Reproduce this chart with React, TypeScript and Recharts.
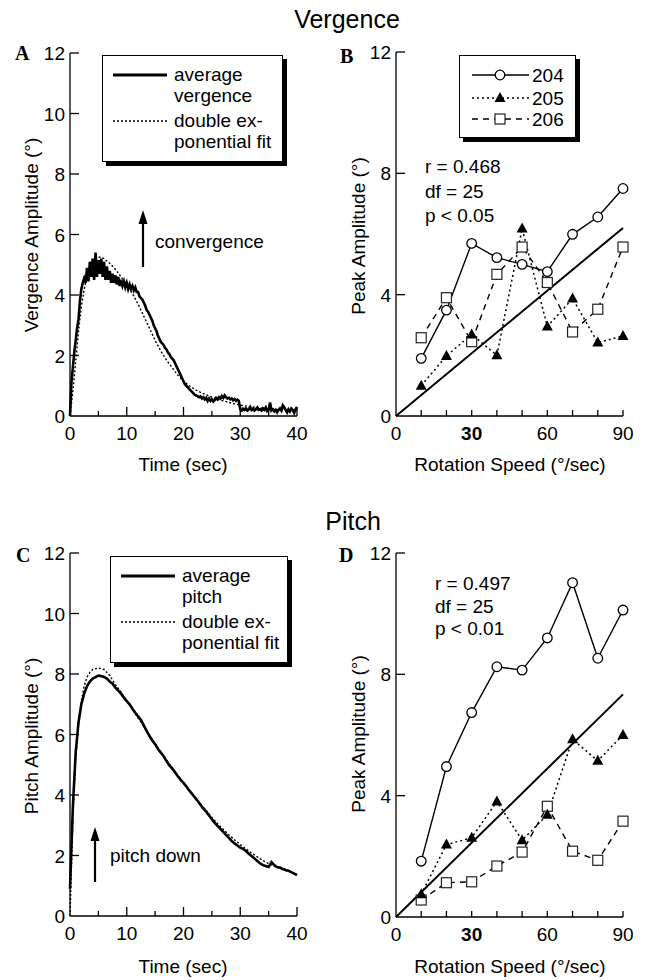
import React from 'react';
import { LineChart, Line, XAxis, YAxis, Legend } from 'recharts';

const FONT = '"Liberation Sans", Arial, Helvetica, sans-serif';
const SERIF = '"Liberation Serif", "Times New Roman", serif';

// Panel A: averaged vergence trace, one sample every 0.25 s
const vergenceStep = 0.25;
const vergenceAvg = [
  0, 1.1, 1.6, 2.1, 2.5, 2.9, 3.2, 3.8, 4.2, 4.4,
  4.55, 4.4, 4.9, 4.45, 5.1, 4.6, 5.2, 4.5, 5.4, 4.6,
  5.15, 4.7, 5.2, 4.6, 5.1, 4.5, 4.95, 4.5, 4.8, 4.4,
  4.7, 4.4, 4.65, 4.35, 4.6, 4.3, 4.5, 4.3, 4.45, 4.25,
  4.4, 4.2, 4.35, 4.2, 4.3, 4.15, 4.25, 4.1, 4.1, 3.95,
  3.9, 3.85, 3.75, 3.65, 3.5, 3.45, 3.35, 3.25, 3.15, 3.0,
  2.9, 2.8, 2.65, 2.55, 2.45, 2.4, 2.35, 2.25, 2.2, 2.1,
  2.05, 1.95, 1.9, 1.85, 1.75, 1.65, 1.55, 1.45, 1.35, 1.25,
  1.15, 1.05, 1.0, 0.95, 0.9, 0.85, 0.8, 0.75, 0.7, 0.68,
  0.65, 0.62, 0.65, 0.58, 0.62, 0.55, 0.6, 0.5, 0.58, 0.5,
  0.55, 0.48, 0.52, 0.6, 0.55, 0.62, 0.58, 0.66, 0.6, 0.68,
  0.62, 0.58, 0.6, 0.55, 0.58, 0.52, 0.56, 0.5, 0.54, 0.5,
  0.22, 0.18, 0.24, 0.2, 0.25, 0.18, 0.22, 0.3, 0.2, 0.24,
  0.18, 0.22, 0.28, 0.2, 0.22, 0.18, 0.25, 0.2, 0.28, 0.16,
  0.2, 0.45, 0.18, 0.22, 0.15, 0.2, 0.12, 0.2, 0.25, 0.18,
  0.35, 0.28, 0.2, 0.12, 0.22, 0.15, 0.25, 0.2, 0.1, 0.22,
  0.3,
];
const vergenceFitTime = [
  0, 0.5, 1, 1.5, 2, 2.5, 3, 3.5, 4, 4.5, 5, 5.5, 6, 7, 8, 9, 10, 11, 12, 13,
  14, 15, 16, 17, 18, 19, 20, 21, 22, 23, 24, 25, 26, 27, 28, 29, 30, 32, 34, 36, 38, 40,
];
const vergenceFit = [
  0, 0.8, 1.8, 2.8, 3.6, 4.2, 4.6, 4.9, 5.1, 5.2, 5.25, 5.25, 5.2, 5.05, 4.85, 4.6, 4.35, 4.05, 3.7, 3.3,
  2.9, 2.5, 2.15, 1.85, 1.6, 1.35, 1.15, 1.0, 0.88, 0.78, 0.7, 0.62, 0.55, 0.5, 0.45, 0.4, 0.36, 0.3, 0.26, 0.22, 0.2, 0.18,
];

// Panel C: averaged pitch trace, one sample every 0.5 s
const pitchStep = 0.5;
const pitchAvg = [
  0.9, 3.6, 5.4, 6.4, 7.0, 7.35, 7.6, 7.75, 7.85, 7.9,
  7.95, 7.93, 7.9, 7.85, 7.75, 7.68, 7.55, 7.45, 7.35, 7.22,
  7.1, 7.0, 6.85, 6.72, 6.6, 6.48, 6.3, 6.12, 5.95, 5.8,
  5.68, 5.52, 5.4, 5.28, 5.12, 4.98, 4.88, 4.75, 4.62, 4.5,
  4.4, 4.28, 4.15, 4.04, 3.92, 3.8, 3.68, 3.55, 3.45, 3.32,
  3.2, 3.08, 2.98, 2.88, 2.78, 2.68, 2.58, 2.48, 2.4, 2.33,
  2.26, 2.22, 2.15, 2.06, 1.98, 1.9, 1.82, 1.74, 1.68, 1.65,
  1.62, 1.78, 1.68, 1.62, 1.6, 1.55, 1.52, 1.5, 1.45, 1.4,
  1.35,
];
const pitchFitTime = [
  0, 0.5, 1, 1.5, 2, 2.5, 3, 3.5, 4, 5, 6, 7, 8, 9, 10, 12, 14, 16, 18, 20,
  22, 24, 26, 28, 30, 32, 34, 36, 38, 40,
];
const pitchFit = [
  0, 3.2, 5.2, 6.4, 7.1, 7.6, 7.9, 8.05, 8.15, 8.2, 8.15, 7.95, 7.65, 7.4, 7.12, 6.55, 5.98, 5.42, 4.9, 4.4,
  3.92, 3.48, 3.05, 2.68, 2.36, 2.08, 1.83, 1.64, 1.5, 1.38,
];

// Panels B and D: peak amplitude per subject
const speeds = [10, 20, 30, 40, 50, 60, 70, 80, 90];
const vergence204 = [1.9, 3.49, 5.69, 5.22, 5.0, 4.76, 5.99, 6.56, 7.5];
const vergence205 = [1.0, 1.98, 2.69, 2.0, 6.18, 2.95, 3.87, 2.42, 2.64];
const vergence206 = [2.58, 3.9, 2.45, 4.67, 5.57, 4.4, 2.77, 3.52, 5.57];
const pitch204 = [1.84, 4.96, 6.74, 8.25, 8.14, 9.2, 11.02, 8.53, 10.12];
const pitch205 = [0.75, 2.39, 2.61, 3.81, 2.53, 3.37, 5.86, 5.15, 6.0];
const pitch206 = [0.56, 1.13, 1.16, 1.68, 2.14, 3.65, 2.17, 1.87, 3.16];
const regressionSpeed = [0, 90];
const vergenceRegression = [0, 6.2];
const pitchRegression = [0, 7.34];

const timeTicks = [0, 5, 10, 15, 20, 25, 30, 35, 40];
const timeLabels = [0, 10, 20, 30, 40];
const amplitudeTicks = [0, 2, 4, 6, 8, 10, 12];
const peakTicks = [0, 4, 8, 12];
const speedTicks = [0, 10, 20, 30, 40, 50, 60, 70, 80, 90];
const speedLabels = [0, 30, 60, 90];
const boldSpeed = 30;

const traceData = (vals: number[], step: number) => vals.map((v, i) => ({ t: i * step, v }));
const pairData = (ts: number[], vals: number[]) => ts.map((t, i) => ({ t, v: vals[i] }));
const speedTable = (a: number[], b: number[], c: number[]) =>
  speeds.map((x, i) => ({ x, s204: a[i], s205: b[i], s206: c[i] }));

const vergenceAvgData = traceData(vergenceAvg, vergenceStep);
const vergenceFitData = pairData(vergenceFitTime, vergenceFit);
const pitchAvgData = traceData(pitchAvg, pitchStep);
const pitchFitData = pairData(pitchFitTime, pitchFit);
const vergencePeaks = speedTable(vergence204, vergence205, vergence206);
const pitchPeaks = speedTable(pitch204, pitch205, pitch206);
const vergenceRegData = regressionSpeed.map((x, i) => ({ x, fit: vergenceRegression[i] }));
const pitchRegData = regressionSpeed.map((x, i) => ({ x, fit: pitchRegression[i] }));

const AXIS = { stroke: '#000', strokeWidth: 1.3 };

// ticks drawn inward, labels outside
const xTick = (labels: number[], tickLen: (v: number) => number, bold?: number) => (props: any) => {
  const { x, y, payload } = props;
  const v = payload.value;
  return (
    <g>
      {v !== 0 && <line x1={x} x2={x} y1={y} y2={y - tickLen(v)} stroke="#000" strokeWidth={1.3} />}
      {labels.includes(v) && (
        <text x={x} y={y + 24} textAnchor="middle" fontSize={19} fontFamily={FONT}
          fontWeight={v === bold ? 'bold' : 'normal'} fill="#000">{v}</text>
      )}
    </g>
  );
};

const yTick = (props: any) => {
  const { x, y, payload } = props;
  return (
    <g>
      {payload.value !== 0 && <line x1={x} x2={x + 9} y1={y} y2={y} stroke="#000" strokeWidth={1.3} />}
      <text x={x - 5} y={y + 7} textAnchor="end" fontSize={19} fontFamily={FONT} fill="#000">{payload.value}</text>
    </g>
  );
};

const circleDot = (p: any) => (
  <circle key={p.key} cx={p.cx} cy={p.cy} r={4.8} fill="#fff" stroke="#000" strokeWidth={1.3} />
);
const triangleDot = (p: any) => (
  <polygon key={p.key} points={`${p.cx},${p.cy - 6} ${p.cx - 5.5},${p.cy + 4} ${p.cx + 5.5},${p.cy + 4}`} fill="#000" />
);
const squareDot = (p: any) => (
  <rect key={p.key} x={p.cx - 5} y={p.cy - 5} width={10} height={10} fill="#fff" stroke="#222" strokeWidth={1.2} />
);

const boxStyle: React.CSSProperties = {
  position: 'relative', boxSizing: 'border-box', border: '1.5px solid #000', background: '#fff',
  boxShadow: '4px 4px 0 #000', width: '100%', height: '100%',
};

const TraceLegend = ({ first, second }: { first: string; second: string }) => (
  <div style={boxStyle}>
    <svg width="100%" height="100%" style={{ position: 'absolute', left: 0, top: 0 }}>
      <line x1={10} x2={64} y1={19} y2={19} stroke="#000" strokeWidth={3} />
      <line x1={10} x2={64} y1={65} y2={65} stroke="#000" strokeWidth={1.4} strokeDasharray="2 2" />
      <g fontSize={19} fontFamily={FONT} fill="#000">
        <text x={71} y={25}>{first}</text>
        <text x={71} y={46}>{second}</text>
        <text x={71} y={71}>double ex-</text>
        <text x={71} y={92}>ponential fit</text>
      </g>
    </svg>
  </div>
);

const SubjectLegend = () => (
  <div style={boxStyle}>
    <svg width="100%" height="100%" style={{ position: 'absolute', left: 0, top: 0 }}>
      <line x1={12} x2={69} y1={19} y2={19} stroke="#000" strokeWidth={1.3} />
      <circle cx={40} cy={19} r={4.8} fill="#fff" stroke="#000" strokeWidth={1.3} />
      <line x1={12} x2={69} y1={42} y2={42} stroke="#000" strokeWidth={1.5} strokeDasharray="2 3" />
      <polygon points="40,36 34.5,46 45.5,46" fill="#000" />
      <line x1={12} x2={69} y1={63} y2={63} stroke="#000" strokeWidth={1.4} strokeDasharray="6 5" />
      <rect x={35} y={58} width={10} height={10} fill="#fff" stroke="#222" strokeWidth={1.2} />
      <g fontSize={19} fontFamily={FONT} fill="#000">
        <text x={72} y={26}>204</text>
        <text x={72} y={49}>205</text>
        <text x={72} y={70}>206</text>
      </g>
    </svg>
  </div>
);

const noOffsetLegend = { layout: 'horizontal' as const, verticalAlign: 'middle' as const, align: 'center' as const };

function TraceChart({ avg, fit, height, top, legend }: any) {
  return (
    <LineChart width={320} height={height} margin={{ top, right: 23, bottom: height - top - 363 - 30, left: 30 }}>
      <XAxis type="number" dataKey="t" domain={[0, 40]} ticks={timeTicks} interval={0} height={30}
        axisLine={AXIS} tickLine={false} tickSize={0} tickMargin={0}
        tick={xTick(timeLabels, (v) => (v % 10 === 0 ? 9 : 5))} />
      <YAxis type="number" domain={[0, 12]} ticks={amplitudeTicks} interval={0} width={40}
        axisLine={AXIS} tickLine={false} tickSize={0} tickMargin={0} tick={yTick} />
      <Legend {...noOffsetLegend} wrapperStyle={legend.style} content={() => legend.node} />
      <Line data={fit} dataKey="v" type="linear" stroke="#000" strokeWidth={1.4} strokeDasharray="2 2"
        dot={false} isAnimationActive={false} />
      <Line data={avg} dataKey="v" type="linear" stroke="#000" strokeWidth={2.6}
        dot={false} isAnimationActive={false} />
    </LineChart>
  );
}

function PeakChart({ data, reg, height, top, legend }: any) {
  return (
    <LineChart width={325} height={height} data={data}
      margin={{ top, right: 22, bottom: height - top - 364 - 30, left: 36 }}>
      <XAxis type="number" dataKey="x" domain={[0, 90]} ticks={speedTicks} interval={0} height={30}
        axisLine={AXIS} tickLine={false} tickSize={0} tickMargin={0}
        tick={xTick(speedLabels, () => 6, boldSpeed)} />
      <YAxis type="number" domain={[0, 12]} ticks={peakTicks} interval={0} width={40}
        axisLine={AXIS} tickLine={false} tickSize={0} tickMargin={0} tick={yTick} />
      {legend && <Legend {...noOffsetLegend} wrapperStyle={legend.style} content={() => legend.node} />}
      <Line data={reg} dataKey="fit" type="linear" stroke="#000" strokeWidth={2} dot={false} isAnimationActive={false} />
      <Line dataKey="s206" type="linear" stroke="#000" strokeWidth={1.4} strokeDasharray="6 5"
        dot={squareDot} isAnimationActive={false} />
      <Line dataKey="s205" type="linear" stroke="#000" strokeWidth={1.5} strokeDasharray="2 3"
        dot={triangleDot} isAnimationActive={false} />
      <Line dataKey="s204" type="linear" stroke="#000" strokeWidth={1.4}
        dot={circleDot} isAnimationActive={false} />
    </LineChart>
  );
}

const Arrow = ({ x, y1, y2 }: { x: number; y1: number; y2: number }) => (
  <g>
    <line x1={x} x2={x} y1={y1} y2={y2 + 10} stroke="#000" strokeWidth={2.2} />
    <polygon points={`${x},${y2} ${x - 4.5},${y2 + 14} ${x + 4.5},${y2 + 14}`} fill="#000" />
  </g>
);

export default function App() {
  const place = (left: number, top: number): React.CSSProperties => ({ position: 'absolute', left, top });
  return (
    <div style={{ position: 'absolute', left: 0, top: 0, width: 645, height: 980, background: '#fff' }}>
      <div style={place(0, 0)}>
        <TraceChart avg={vergenceAvgData} fit={vergenceFitData} height={480} top={53}
          legend={{ style: { left: 102, top: 55, width: 181, height: 107 }, node: <TraceLegend first="average" second="vergence" /> }} />
      </div>
      <div style={place(320, 0)}>
        <PeakChart data={vergencePeaks} reg={vergenceRegData} height={480} top={52}
          legend={{ style: { left: 139, top: 55, width: 117, height: 83 }, node: <SubjectLegend /> }} />
      </div>
      <div style={place(0, 480)}>
        <TraceChart avg={pitchAvgData} fit={pitchFitData} height={500} top={73}
          legend={{ style: { left: 110, top: 76, width: 178, height: 107 }, node: <TraceLegend first="average" second="pitch" /> }} />
      </div>
      <div style={place(320, 480)}>
        <PeakChart data={pitchPeaks} reg={pitchRegData} height={500} top={73} />
      </div>

      <svg width={645} height={980} style={{ position: 'absolute', left: 0, top: 0, pointerEvents: 'none' }}
        fontFamily={FONT} fill="#000">
        <text x={347} y={28} fontSize={25} textAnchor="middle">Vergence</text>
        <text x={353} y={530} fontSize={25} textAnchor="middle">Pitch</text>

        <g fontFamily={SERIF} fontWeight="bold" fontSize={20}>
          <text x={15} y={60}>A</text>
          <text x={340} y={63}>B</text>
          <text x={16} y={562}>C</text>
          <text x={339} y={562}>D</text>
        </g>

        <g fontSize={19} textAnchor="middle">
          <text x={183} y={471}>Time (sec)</text>
          <text x={510} y={471}>Rotation Speed (°/sec)</text>
          <text x={183} y={973}>Time (sec)</text>
          <text x={510} y={973}>Rotation Speed (°/sec)</text>
          <text transform="translate(38,235) rotate(-90)">Vergence Amplitude (°)</text>
          <text transform="translate(365,236) rotate(-90)">Peak Amplitude (°)</text>
          <text transform="translate(38,736) rotate(-90)">Pitch Amplitude (°)</text>
          <text transform="translate(365,734) rotate(-90)">Peak Amplitude (°)</text>
        </g>

        <g fontSize={19}>
          <text x={155} y={248}>convergence</text>
          <text x={110} y={862}>pitch down</text>
          <text x={425} y={173}>r = 0.468</text>
          <text x={425} y={198}>df = 25</text>
          <text x={425} y={222}>p &lt; 0.05</text>
          <text x={435} y={590}>r = 0.497</text>
          <text x={435} y={613}>df = 25</text>
          <text x={435} y={635}>p &lt; 0.01</text>
        </g>

        <Arrow x={143} y1={267} y2={210} />
        <Arrow x={95} y1={882} y2={827} />
      </svg>
    </div>
  );
}
